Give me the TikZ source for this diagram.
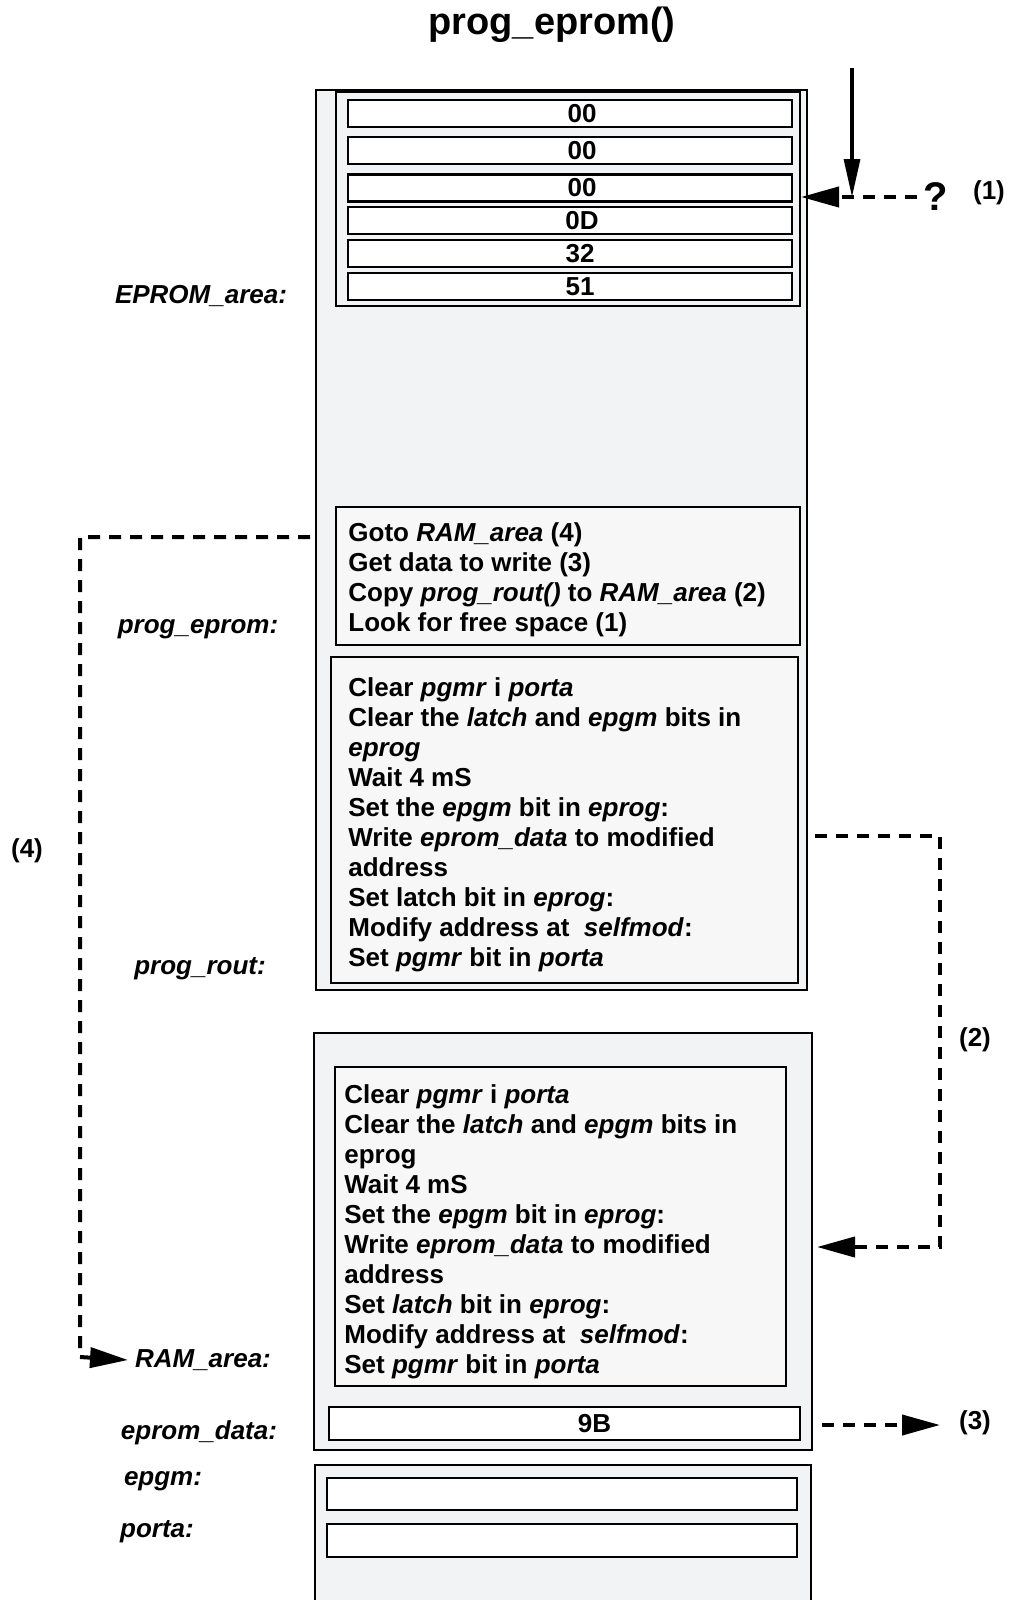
\documentclass[tikz,border=0pt]{standalone}
\usepackage{fontspec}
\setmainfont{Liberation Sans}
\usetikzlibrary{arrows.meta}
\definecolor{areagray}{HTML}{F2F3F5}
\definecolor{boxgray}{HTML}{F7F7F8}
\tikzset{
  area/.style={draw, line width=1pt, fill=areagray, inner sep=0pt},
  codebox/.style={draw, line width=1.2pt, fill=boxgray, inner sep=0pt},
  cell/.style={draw, line width=1.3pt, fill=white, inner sep=0pt, font=\bfseries\fontsize{13}{15}\selectfont},
  lbl/.style={font=\bfseries\itshape\fontsize{13}{15}\selectfont},
  code/.style={anchor=north west, inner sep=0pt, align=left, font=\bfseries\fontsize{13}{15}\selectfont},
  num/.style={font=\bfseries\fontsize{13}{15}\selectfont},
  flow/.style={line width=2pt, dash pattern=on 6pt off 4.5pt, -{Triangle[length=19pt,width=10pt]}},
}
\begin{document}
\begin{tikzpicture}[x=0.5pt,y=-0.5pt]
\useasboundingbox (0,0) rectangle (1031,1600);
\clip (0,0) rectangle (1031,1600);
% title
\node[font=\bfseries\fontsize{19}{22}\selectfont] (title) at (552,25) {prog\_eprom()};

% EPROM area
\node[area, minimum width=245.5pt, minimum height=450pt] (eprom) at (561.5,540) {};
\node[area, minimum width=232pt, minimum height=107pt] (bytes) at (568,199) {};
\node[cell, minimum width=222pt, minimum height=13.5pt] (b1) at (570,113.5) {\hspace*{12pt}00};
\node[cell, minimum width=222pt, minimum height=13.5pt] (b2) at (570,150.5) {\hspace*{12pt}00};
\node[cell, minimum width=222pt, minimum height=13.5pt] (b3) at (570,188) {\hspace*{12pt}00};
\node[cell, minimum width=222pt, minimum height=13.5pt] (b4) at (570,220.5) {\hspace*{12pt}0D};
\node[cell, minimum width=222pt, minimum height=13.5pt] (b5) at (570,253.5) {\hspace*{10pt}32};
\node[cell, minimum width=222pt, minimum height=13.5pt] (b6) at (570,286.5) {\hspace*{10pt}51};

% prog_eprom code
\node[codebox, minimum width=232pt, minimum height=69pt] (goto) at (568,576) {};
\node[code] (gototxt) at (348,520.5) {\strut Goto \textit{RAM\_area} (4)\\
Get data to write (3)\\
Copy \textit{prog\_rout()} to \textit{RAM\_area} (2)\\
Look for free space (1)};

% prog_rout code
\node[codebox, minimum width=233.5pt, minimum height=163pt] (rout) at (564.5,820) {};
\node[code] (routtxt) at (348,675.5) {\strut Clear \textit{pgmr} i \textit{porta}\\
Clear the \textit{latch} and \textit{epgm} bits in\\
\textit{eprog}\\
Wait 4 mS\\
Set the \textit{epgm} bit in \textit{eprog}:\\
Write \textit{eprom\_data} to modified\\
address\\
Set latch bit in \textit{eprog}:\\
Modify address at \ \textit{selfmod}:\\
Set \textit{pgmr} bit in \textit{porta}};

% RAM area
\node[area, minimum width=249pt, minimum height=208.5pt] (ram) at (563,1241.5) {};
\node[codebox, minimum width=225.5pt, minimum height=159.5pt] (copy) at (560.5,1226.5) {};
\node[code] (copytxt) at (344,1082.5) {\strut Clear \textit{pgmr} i \textit{porta}\\
Clear the \textit{latch} and \textit{epgm} bits in\\
eprog\\
Wait 4 mS\\
Set the \textit{epgm} bit in \textit{eprog}:\\
Write \textit{eprom\_data} to modified\\
address\\
Set \textit{latch} bit in \textit{eprog}:\\
Modify address at \ \textit{selfmod}:\\
Set \textit{pgmr} bit in \textit{porta}};
\node[cell, minimum width=235.5pt, minimum height=16.5pt] (data) at (564.5,1423.5) {\hspace*{30pt}9B};

% registers
\node[area, minimum width=248pt, minimum height=77.5pt] (regs) at (563,1542.5) {};
\node[cell, minimum width=235pt, minimum height=16pt] (epgm) at (562,1494) {};
\node[cell, minimum width=235pt, minimum height=16.5pt] (porta) at (562,1540.5) {};

% labels
\node[lbl] (leprom) at (201,296) {EPROM\_area:};
\node[lbl] (lprog) at (198,629) {prog\_eprom:};
\node[lbl] (lrout) at (200,969) {prog\_rout:};
\node[lbl] (lram) at (203,1360) {RAM\_area:};
\node[lbl] (ldata) at (199,1433) {eprom\_data:};
\node[lbl] (lepgm) at (163,1481) {epgm:};
\node[lbl] (lporta) at (157,1532) {porta:};

% step numbers
\node[font=\bfseries\fontsize{20}{22}\selectfont] (q) at (936,197) {?};
\node[num] (n1) at (989,193) {(1)};
\node[num] (n2) at (975,1040) {(2)};
\node[num] (n3) at (975,1423) {(3)};
\node[num] (n4) at (27,851) {(4)};

% connectors
\coordinate (top) at (852,68);
\coordinate (hit) at (852,197);
\draw[line width=1.6pt, -{Triangle[length=19pt,width=8pt]}] (top) -- (hit);
\draw[flow] (q.west) -- (bytes.east |- hit);

\coordinate (go) at (310,537);
\coordinate (c4) at (80,1357);
\draw[flow] (go) -| (c4) -- (lram.west);

\coordinate (cp) at (815,836);
\coordinate (c2) at (940,1247);
\draw[flow] (cp) -| (c2) -- ([xshift=2pt]ram.east |- c2);

\coordinate (rd) at (822,1425);
\draw[flow] (rd) -- (940,1425);
\end{tikzpicture}
\end{document}
